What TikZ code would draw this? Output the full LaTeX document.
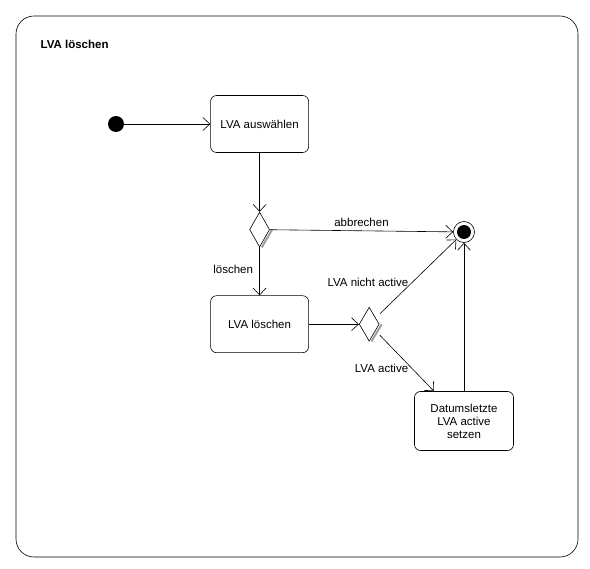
\documentclass[tikz,border=0pt]{standalone}
\usepackage{fontspec}
\setmainfont{Liberation Sans}
\usetikzlibrary{positioning,shapes.geometric,arrows.meta}

\tikzset{
 activity/.style={rectangle,draw,rounded corners=6pt,align=center,minimum width=98pt,minimum height=57pt,inner sep=2pt},
 choice/.style={diamond,draw,fill=white,minimum width=20pt,minimum height=35pt,inner sep=0pt},
 shade/.style={draw=gray!75,line width=2pt},
}

\begin{document}
\begin{tikzpicture}[x=1pt,y=-1pt,line width=0.6pt,>={Straight Barb[length=7pt,width=13pt]},font=\fontsize{11.5}{13}\selectfont]
 \useasboundingbox (0,0) rectangle (590,569);
 \draw[rounded corners=18pt] (16,16) rectangle (578,557);
 \node[anchor=west,font=\fontsize{11.5}{13}\selectfont\bfseries] (title) at (37,44) {LVA löschen};

 \node[circle,fill,inner sep=0pt,minimum size=16pt] (start) at (116,124) {};
 \node[activity] (auswahl) [right=86pt of start] {LVA auswählen};
 \node[choice] (choice1) [below=59pt of auswahl] {};
 \node[activity] (loeschen) [below=48pt of choice1] {LVA löschen};
 \node[choice,minimum height=34pt] (choice2) [right=50pt of loeschen] {};
 \node[circle,draw,inner sep=0pt,minimum size=21pt] (final) at (464,232) {};
 \node[circle,fill,inner sep=0pt,minimum size=14pt] (finaldot) at (final) {};
 \node[activity,minimum width=99pt,minimum height=59pt] (datum) at (464,421) {Datumsletzte\\LVA active\\setzen};

% shadows of the decisions
 \path[shade] ([xshift=2.2pt]choice1.east) -- ([xshift=2.2pt]choice1.south);
 \path[shade] ([xshift=2.2pt]choice2.east) -- ([xshift=2.2pt]choice2.south);

 \path[draw] (start) edge [->] (auswahl);
 \path[draw] (auswahl) edge [->] (choice1);
 \path[draw] (choice1) edge [->] node[above=1pt] {abbrechen} (final);
 \path[draw] (choice1) edge [->] node[left=3pt,pos=0.45] {löschen} (loeschen);
 \path[draw] (loeschen) edge [->] (choice2);
 \path[draw] (choice2) edge [->,shorten <=6pt] node[left=0pt,pos=0.45] {LVA nicht active} (final);
 \path[draw] (choice2) edge [->,shorten <=6pt] node[left=0pt,pos=0.62] {LVA active} ([xshift=-30pt]datum.north);
 \path[draw] (datum) edge [->] (final);
\end{tikzpicture}
\end{document}
